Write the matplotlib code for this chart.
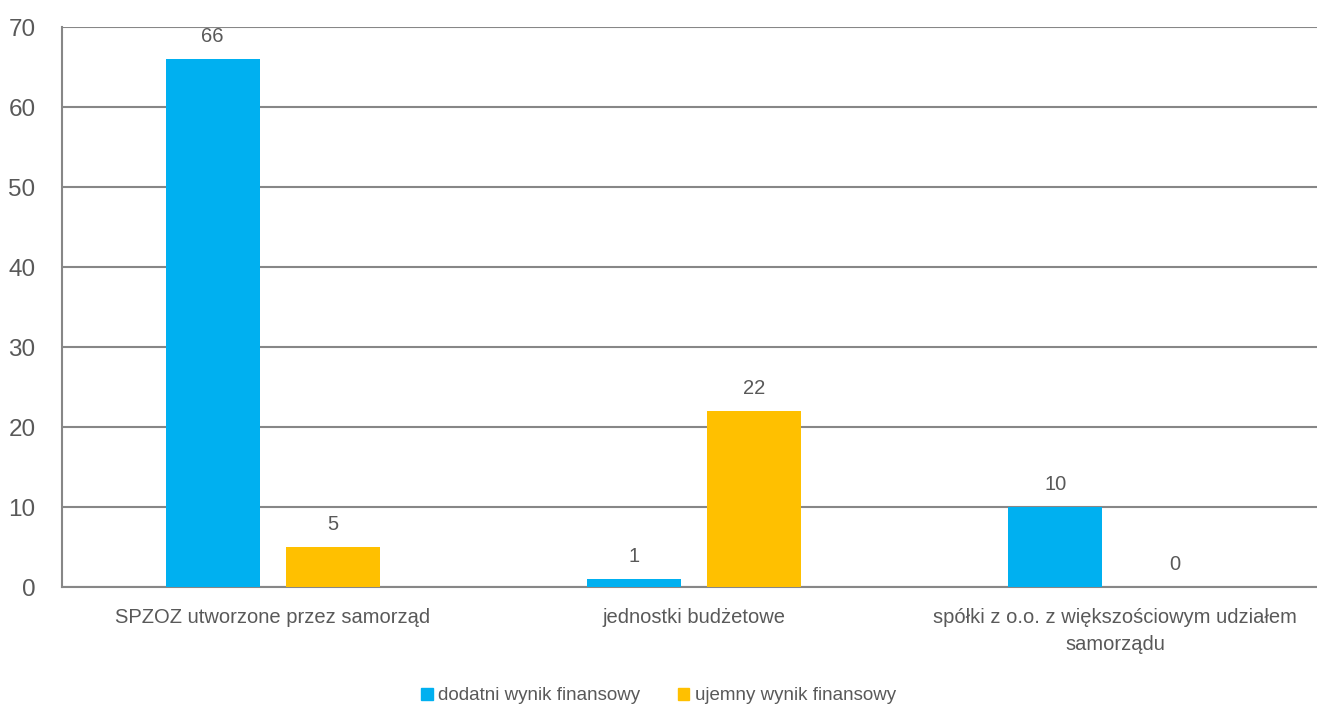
import numpy as np
import matplotlib.pyplot as plt
from matplotlib.patches import Patch

plt.rcParams['font.family'] = ['Liberation Sans', 'DejaVu Sans']

# dane
categories = ['SPZOZ utworzone przez samorząd',
              'jednostki budżetowe',
              'spółki z o.o. z większościowym udziałem\nsamorządu']
series_names = ['dodatni wynik finansowy', 'ujemny wynik finansowy']
dodatni = [66, 1, 10]
ujemny = [5, 22, 0]

colors = ['#00B0F0', '#FFC000']
text_color = '#595959'
grid_color = '#878787'

fig = plt.figure(figsize=(13.17, 7.07), dpi=100)
ax = fig.add_axes([62 / 1317, 1 - 587 / 707, 1264 / 1317, 560 / 707])

x = np.arange(len(categories))
width = 0.223
offset = 0.1423

bars1 = ax.bar(x - offset, dodatni, width, color=colors[0], zorder=3)
bars2 = ax.bar(x + offset, ujemny, width, color=colors[1], zorder=3)

for bars, vals in [(bars1, dodatni), (bars2, ujemny)]:
    for b, v in zip(bars, vals):
        ax.annotate(str(v), (b.get_x() + b.get_width() / 2, v),
                    xytext=(0, 9), textcoords='offset points',
                    ha='center', va='bottom', fontsize=14.5, color=text_color)

ax.set_xlim(-0.5, 2.5)
ax.set_ylim(0, 70)
ax.set_yticks(range(0, 71, 10))
ax.set_xticks(x)
ax.set_xticklabels(categories, fontsize=14.5, color=text_color, linespacing=1.55)
ax.tick_params(axis='y', length=0, pad=19, labelsize=17.5, labelcolor=text_color)
ax.tick_params(axis='x', length=0, pad=15)

ax.grid(axis='y', color=grid_color, linewidth=1.5, zorder=0)
ax.set_axisbelow(True)
for s in ['top', 'right']:
    ax.spines[s].set_visible(False)
for s in ['left', 'bottom']:
    ax.spines[s].set_color(grid_color)
    ax.spines[s].set_linewidth(1.5)

handles = [Patch(color=c) for c in colors]
fig.legend(handles, series_names, loc='center', bbox_to_anchor=(0.5, 1 - 696 / 707),
           ncol=2, frameon=False, fontsize=13.5, labelcolor=text_color,
           handlelength=0.6, handleheight=0.6, handletextpad=0.3, columnspacing=2.0)

fig.savefig('out.png', dpi=100)
